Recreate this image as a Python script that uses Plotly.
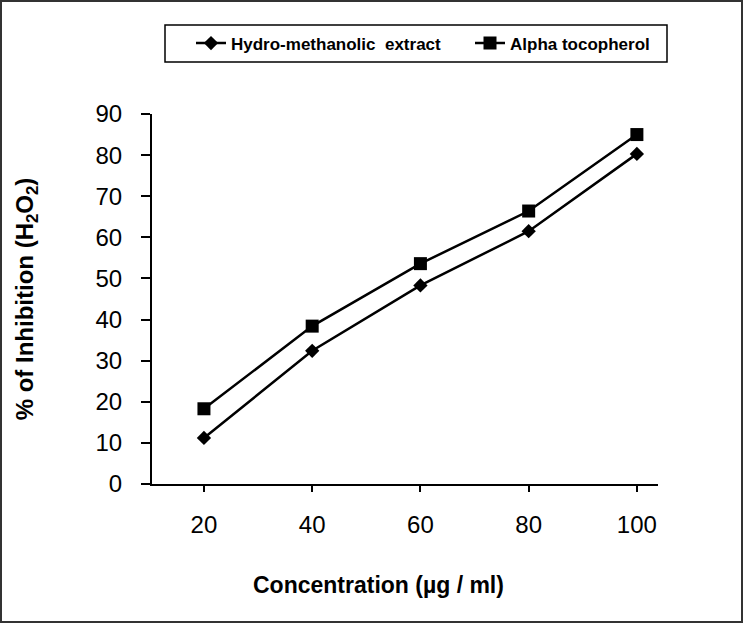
import plotly.graph_objects as go

concentration = [20, 40, 60, 80, 100]
hydro_methanolic = [11.2, 32.4, 48.3, 61.5, 80.3]
alpha_tocopherol = [18.3, 38.4, 53.6, 66.4, 85.0]

x_ticks = [20, 40, 60, 80, 100]
y_ticks = [0, 10, 20, 30, 40, 50, 60, 70, 80, 90]

FONT = "Liberation Sans, Arial, sans-serif"
PLOT_W, PLOT_H = 506, 370

fig = go.Figure()
fig.add_trace(
    go.Scatter(
        x=concentration,
        y=hydro_methanolic,
        mode="lines+markers",
        name="<b>Hydro-methanolic  extract</b>",
        line={"color": "black", "width": 2.5},
        marker={"symbol": "diamond", "size": 11, "color": "black"},
        legend="legend",
    )
)
fig.add_trace(
    go.Scatter(
        x=concentration,
        y=alpha_tocopherol,
        mode="lines+markers",
        name="<b>Alpha tocopherol</b>",
        line={"color": "black", "width": 2.5},
        marker={"symbol": "square", "size": 13, "color": "black"},
        legend="legend2",
    )
)

legend_style = {
    "orientation": "h",
    "xanchor": "left",
    "yanchor": "middle",
    "y": (484 - 43.5) / PLOT_H,
    "bgcolor": "rgba(0,0,0,0)",
    "borderwidth": 0,
    "font": {"size": 17, "family": FONT},
}

fig.update_layout(
    width=743,
    height=623,
    margin={"l": 152, "r": 85, "t": 114, "b": 139},
    paper_bgcolor="white",
    plot_bgcolor="white",
    font={"family": FONT, "color": "black"},
    showlegend=True,
    legend={**legend_style, "x": (191 - 152) / PLOT_W},
    legend2={**legend_style, "x": (470 - 152) / PLOT_W},
    shapes=[
        # outer frame of the picture
        {
            "type": "rect",
            "xref": "paper",
            "yref": "paper",
            "x0": -151 / PLOT_W,
            "x1": 1 + 84 / PLOT_W,
            "y0": -138 / PLOT_H,
            "y1": 1 + 113 / PLOT_H,
            "line": {"color": "#333333", "width": 2},
        },
        # legend box
        {
            "type": "rect",
            "xref": "paper",
            "yref": "paper",
            "x0": (165 - 152) / PLOT_W,
            "x1": (667 - 152) / PLOT_W,
            "y0": (484 - 62) / PLOT_H,
            "y1": (484 - 25) / PLOT_H,
            "line": {"color": "black", "width": 1.5},
        },
    ],
    annotations=[
        {
            "text": "<b>Concentration (µg / ml)</b>",
            "xref": "paper",
            "yref": "paper",
            "x": 0.447,
            "y": -101 / PLOT_H,
            "xanchor": "center",
            "yanchor": "middle",
            "showarrow": False,
            "font": {"size": 23},
        }
    ],
)

fig.update_xaxes(
    range=[10.4, 103.9],
    tickvals=x_ticks,
    ticks="outside",
    ticklen=6,
    tickwidth=2,
    tickcolor="black",
    ticklabelstandoff=12,
    showline=True,
    linecolor="black",
    linewidth=2,
    showgrid=False,
    zeroline=False,
    tickfont={"size": 24},
)
fig.update_yaxes(
    range=[0, 90],
    tickvals=y_ticks,
    ticks="outside",
    ticklen=9,
    tickwidth=2,
    tickcolor="black",
    ticklabelstandoff=14,
    showline=True,
    linecolor="black",
    linewidth=2,
    showgrid=False,
    zeroline=False,
    tickfont={"size": 24},
    title={
        "text": "<b>% of Inhibition (H<sub>2</sub>O<sub>2</sub>)</b>",
        "font": {"size": 24},
        "standoff": 55,
    },
)

fig.write_html(
    "out.html",
    config={"displayModeBar": False},
    post_script="document.body.style.margin='0';",
)
